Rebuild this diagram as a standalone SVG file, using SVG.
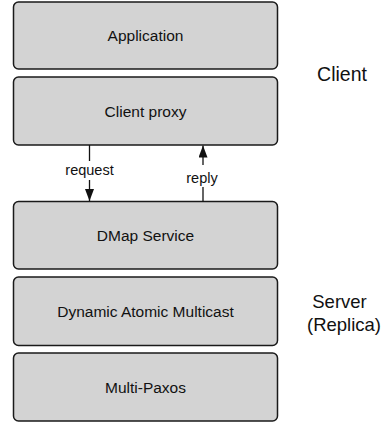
<svg xmlns="http://www.w3.org/2000/svg" width="388" height="423" viewBox="0 0 388 423">
<style>
.box{fill:#d3d3d3;stroke:#1a1a1a;stroke-width:1.5}
.lbl{font-family:"Liberation Sans",Arial,Helvetica,sans-serif;font-size:15.5px;fill:#111;text-anchor:middle}
.side{font-family:"Liberation Sans",Arial,Helvetica,sans-serif;font-size:18.5px;fill:#111;text-anchor:middle}
.edge{stroke:#111;stroke-width:1.3;fill:none}
.elbl{font-family:"Liberation Sans",Arial,Helvetica,sans-serif;font-size:14.5px;fill:#111;text-anchor:middle}
</style>
<defs>
<marker id="ah" viewBox="0 0 12 9" refX="12" refY="4.5" markerWidth="12" markerHeight="9" markerUnits="userSpaceOnUse" orient="auto">
<path d="M0,0 L12,4.5 L0,9 Z" fill="#111"/>
</marker>
</defs>
<rect width="388" height="423" fill="#fff"/>
<g id="application"><rect class="box" x="13.5" y="2" width="264" height="67" rx="5"/><text class="lbl" x="145.5" y="40.5">Application</text></g>
<g id="client-proxy"><rect class="box" x="13.5" y="77" width="264" height="68" rx="5"/><text class="lbl" x="145.5" y="116.5">Client proxy</text></g>
<g id="dmap-service"><rect class="box" x="13.5" y="201.5" width="264" height="67.5" rx="5"/><text class="lbl" x="145.5" y="241">DMap Service</text></g>
<g id="dynamic-atomic-multicast"><rect class="box" x="13.5" y="277" width="264" height="68.5" rx="5"/><text class="lbl" x="145.5" y="316.5">Dynamic Atomic Multicast</text></g>
<g id="multi-paxos"><rect class="box" x="13.5" y="353" width="264" height="68" rx="5"/><text class="lbl" x="145.5" y="392.5">Multi-Paxos</text></g>
<g id="client-label"><text class="side" x="342" y="81" style="font-size:19.5px">Client</text></g>
<g id="server-label"><text class="side" x="339.5" y="308">Server</text><text class="side" x="344" y="331">(Replica)</text></g>
<g id="connectors">
<line class="edge" x1="89.5" y1="145" x2="89.5" y2="161"/>
<line class="edge" x1="89.5" y1="180" x2="89.5" y2="201" marker-end="url(#ah)"/>
<text class="elbl" x="89.5" y="175">request</text>
<line class="edge" x1="203" y1="201.5" x2="203" y2="187"/>
<line class="edge" x1="203" y1="165" x2="203" y2="145.5" marker-end="url(#ah)"/>
<text class="elbl" x="202" y="183">reply</text>
</g>
</svg>
